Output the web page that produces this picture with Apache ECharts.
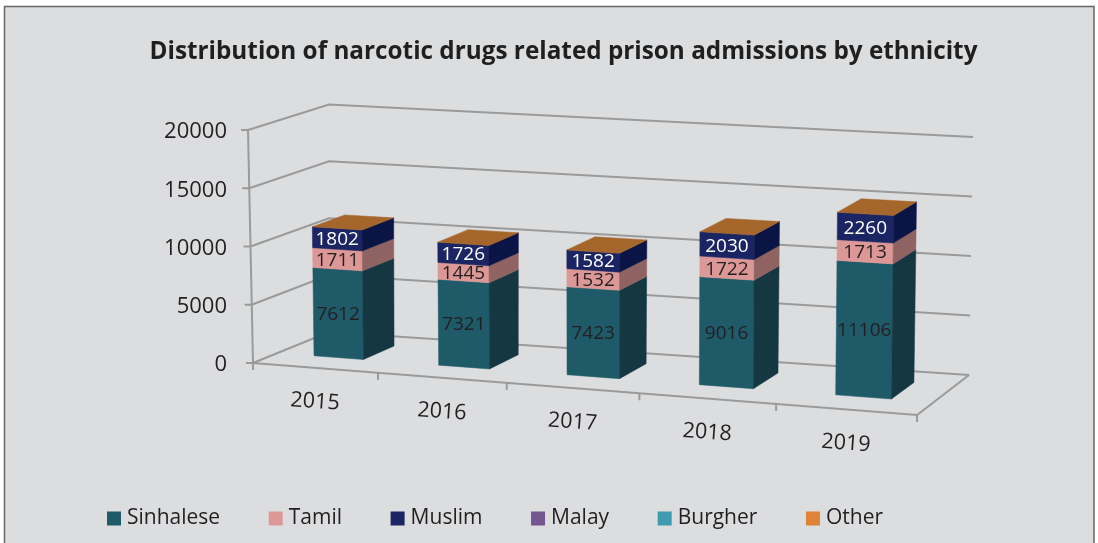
<!DOCTYPE html>
<html>
<head>
<meta charset="utf-8">
<style>html,body{margin:0;padding:0;background:#fff}#c{width:1098px;height:543px}</style>
<script src="https://cdn.jsdelivr.net/npm/echarts@6/dist/echarts.min.js"></script>
</head>
<body>
<div id="c"></div>
<script>
const titleText = 'Distribution of narcotic drugs related prison admissions by ethnicity';
const categories = ['2015', '2016', '2017', '2018', '2019'];
const yTicks = [0, 5000, 10000, 15000, 20000];
const sinhalese = [7612, 7321, 7423, 9016, 11106];
const tamil = [1711, 1445, 1532, 1722, 1713];
const muslim = [1802, 1726, 1582, 2030, 2260];
const malay = [0, 0, 0, 0, 0];
const burgher = [0, 0, 0, 0, 0];
const other = [0, 0, 0, 0, 0];

const FONT = '"Open Sans", sans-serif';
const grid = {left: 253, top: 130, width: 664, height: 233};
const bandW = grid.width / categories.length;
const corners = {
  flb: [253, 363], flt: [248, 130],
  frb: [917, 415], frt: [920, 168],
  blb: [329, 332], blt: [329, 104.5],
  brb: [969, 375], brt: [973, 137]
};
const lerp = (a, b, t) => a + (b - a) * t;
function warp(u) { return (123.2 * u / (1 - 0.01447 * u)) / 664; }
// 3D look: maps a grid point (from the axes' scales) and a depth onto the oblique box
function proj(px, py, w) {
  const U = warp((px - grid.left) / bandW);
  const h = (grid.top + grid.height - py) / grid.height;
  const out = [];
  for (let k = 0; k < 2; k++) {
    const fb = lerp(corners.flb[k], corners.frb[k], U);
    const ft = lerp(corners.flt[k], corners.frt[k], U);
    const bb = lerp(corners.blb[k], corners.brb[k], U);
    const bt = lerp(corners.blt[k], corners.brt[k], U);
    out.push(lerp(lerp(fb, ft, h), lerp(bb, bt, h), w));
  }
  return out;
}
const W_FRONT = 0.32, W_BACK = 0.74, HALF = 0.2;
const poly = (points, fill) => ({
  type: 'polygon', shape: {points},
  style: {fill, stroke: fill, lineWidth: 0.5}
});
const line = (points, w) => ({
  type: 'polyline', shape: {points},
  style: {fill: 'none', stroke: '#9a9a9a', lineWidth: w || 2}
});

const segs = [
  {name: 'Sinhalese', values: sinhalese, color: '#1F5A68', side: '#153742', label: '#231F20'},
  {name: 'Tamil', values: tamil, color: '#DC9896', side: '#8F6361', label: '#231F20'},
  {name: 'Muslim', values: muslim, color: '#1C2563', side: '#0A1445', label: '#ffffff'},
  {name: 'Malay', values: malay, color: '#74578E', side: '#4B3860'},
  {name: 'Burgher', values: burgher, color: '#3E9BB0', side: '#286573'},
  {name: 'Other', values: other, color: '#DF8338', side: '#91552A', top: '#A5662B'}
];

function barItem(seg) {
  return function (params, api) {
    const i = api.value(0), lo = api.value(1), hi = api.value(2);
    const cx = api.coord([i, 0])[0];
    const half = api.size([1, 0])[0] * HALF;
    const yLo = api.coord([i, lo])[1], yHi = api.coord([i, hi])[1];
    const l = cx - half, r = cx + half;
    const children = [];
    if (hi > lo) {
      children.push(poly([proj(l, yLo, W_FRONT), proj(r, yLo, W_FRONT), proj(r, yHi, W_FRONT), proj(l, yHi, W_FRONT)], seg.color));
      children.push(poly([proj(r, yLo, W_FRONT), proj(r, yLo, W_BACK), proj(r, yHi, W_BACK), proj(r, yHi, W_FRONT)], seg.side));
      const c = proj(cx, (yLo + yHi) / 2, W_FRONT);
      children.push({type: 'text', z2: 5, style: {
        text: String(hi - lo), x: c[0], y: c[1] + 1, align: 'center', verticalAlign: 'middle',
        fill: seg.label, font: '19px ' + FONT
      }});
    }
    if (seg.top) {
      children.push(poly([proj(l, yHi, W_FRONT), proj(r, yHi, W_FRONT), proj(r, yHi, W_BACK), proj(l, yHi, W_BACK)], seg.top));
    }
    return {type: 'group', children};
  };
}

const base = categories.map(() => 0);
const barSeries = segs.map(seg => {
  const data = seg.values.map((v, i) => {
    const row = [i, base[i], base[i] + v];
    base[i] += v;
    return row;
  });
  return {
    name: seg.name, type: 'custom', renderItem: barItem(seg), data,
    encode: {x: 0, y: [1, 2]}, itemStyle: {color: seg.color}, z: 5, silent: true
  };
});

const wallSeries = {
  type: 'custom', z: 1, silent: true, data: yTicks.map(t => [0, t]),
  encode: {x: 0, y: 1},
  renderItem(params, api) {
    const y = api.coord([0, api.value(1)])[1];
    const xL = grid.left, xR = grid.left + grid.width;
    const f = proj(xL, y, 0), b = proj(xL, y, 1), e = proj(xR, y, 1);
    return {type: 'group', children: [
      line([f, b, e]),
      line([[f[0] - 7, f[1]], f])
    ]};
  }
};
const frameSeries = {
  type: 'custom', z: 2, silent: true, data: [0, 1, 2, 3, 4, 5].map(n => [n]),
  encode: {x: 0},
  renderItem(params, api) {
    const n = api.value(0);
    const yB = api.coord([0, 0])[1], yT = api.coord([0, 20000])[1];
    const xL = grid.left, xR = grid.left + grid.width;
    const p = proj(xL + n * bandW, yB, 0);
    const children = [line([p, [p[0], p[1] + 7]])];
    if (n === 0) {
      children.push(line([proj(xL, yB, 0), proj(xL, yT, 0)]));
      children.push(line([proj(xL, yB, 0), proj(xR, yB, 0), proj(xR, yB, 1)]));
    }
    return {type: 'group', children};
  }
};
const xLabelSeries = {
  type: 'custom', z: 3, silent: true, data: categories.map((c, i) => [i]),
  encode: {x: 0},
  renderItem(params, api) {
    const i = api.value(0);
    const c = api.coord([i, 0]);
    const p = proj(c[0], c[1], 0);
    return {
      type: 'text', x: p[0], y: p[1] + 34, rotation: -4 * Math.PI / 180,
      style: {text: categories[i], x: 0, y: 0, align: 'center', verticalAlign: 'middle',
        fill: '#231F20', font: '21.5px ' + FONT}
    };
  }
};

const chart = echarts.init(document.getElementById('c'), null, {renderer: 'canvas'});
chart.setOption({
  animation: false,
  backgroundColor: '#ffffff',
  title: {
    text: titleText, left: 558.5, top: 35, textAlign: 'center',
    textStyle: {fontFamily: FONT, fontSize: 24.3, fontWeight: 'bold', color: '#1f1f1f'}
  },
  legend: {
    left: 107, top: 508, padding: 0, itemWidth: 14, itemHeight: 14, itemGap: 48.6,
    icon: 'rect', data: segs.map(s => s.name),
    selectedMode: false,
    textStyle: {fontFamily: FONT, fontSize: 21, color: '#231F20', padding: [0, 0, 0, 1]}
  },
  grid: {left: grid.left, top: grid.top, width: grid.width, height: grid.height},
  xAxis: {type: 'category', data: categories, axisLine: {show: false}, axisTick: {show: false}, axisLabel: {show: false}, splitLine: {show: false}},
  yAxis: {
    type: 'value', min: 0, max: 20000, interval: 5000,
    axisLine: {show: false}, axisTick: {show: false}, splitLine: {show: false},
    axisLabel: {margin: 26, fontFamily: FONT, fontSize: 22, color: '#231F20', verticalAlign: 'top', lineHeight: 4, formatter: v => String(v)}
  },
  graphic: [{
    type: 'rect', z: -10, silent: true,
    shape: {x: 4.5, y: 6.5, width: 1089.5, height: 600},
    style: {fill: '#DCDDDF', stroke: '#666666', lineWidth: 1.5}
  }],
  series: [wallSeries, frameSeries, xLabelSeries].concat(barSeries)
});
</script>
</body>
</html>
